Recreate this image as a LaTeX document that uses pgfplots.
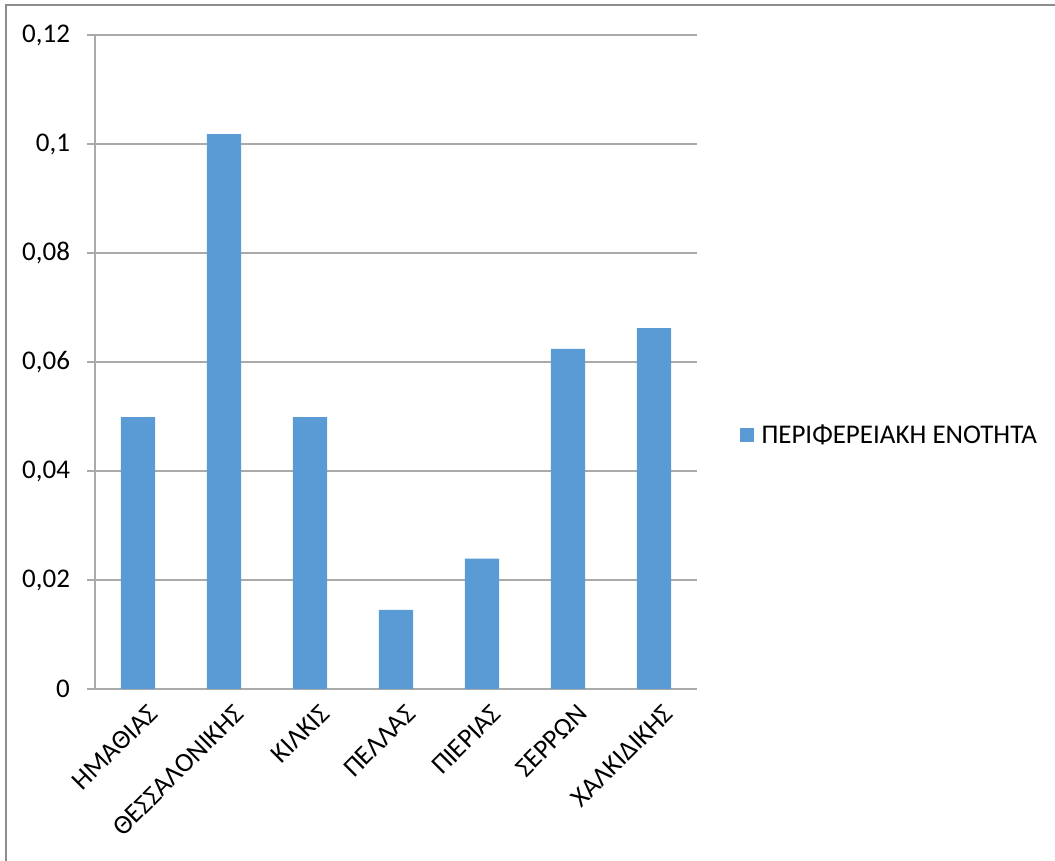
\documentclass[border=0pt]{standalone}
\usepackage{pgfplots}
\pgfplotsset{compat=1.18}
\usepackage{fontspec}
\setmainfont{Carlito}
\definecolor{barblue}{HTML}{5B9BD5}
\definecolor{gridgray}{RGB}{170,170,170}
\definecolor{bordergray}{RGB}{140,140,140}
\begin{document}
\begin{tikzpicture}
\useasboundingbox (-47.5pt,-86pt) rectangle (480pt,344.5pt);
\draw[bordergray, line width=0.8pt] (-44.5pt,-90pt) -- (-44.5pt,342pt) -- (485pt,342pt);
\begin{axis}[
  scale only axis,
  width=301pt, height=327pt,
  xmin=-0.5, xmax=6.5,
  ymin=0, ymax=0.12,
  ytick={0,0.02,0.04,0.06,0.08,0.1,0.12},
  yticklabels={0,{0,02},{0,04},{0,06},{0,08},{0,1},{0,12}},
  xtick={0,1,2,3,4,5,6},
  xticklabels={ΗΜΑΘΙΑΣ,ΘΕΣΣΑΛΟΝΙΚΗΣ,ΚΙΛΚΙΣ,ΠΕΛΛΑΣ,ΠΙΕΡΙΑΣ,ΣΕΡΡΩΝ,ΧΑΛΚΙΔΙΚΗΣ},
  major x tick style={draw=none},
  extra x ticks={-0.5,0.5,1.5,2.5,3.5,4.5,5.5,6.5},
  extra x tick labels={},
  extra x tick style={tick align=outside, major tick length=4pt, tick style={gridgray, line width=0.8pt}, grid=none},
  tick align=outside,
  major tick length=4pt,
  ymajorgrids,
  grid style={gridgray, line width=0.8pt},
  y tick style={gridgray, line width=0.8pt},
  axis line style={gridgray, line width=0.8pt},
  axis x line*=bottom,
  axis y line*=left,
  tick label style={font=\fontsize{13.5}{15}\selectfont, black},
  yticklabel style={xshift=-5pt},
  xticklabel style={rotate=45, anchor=north east, inner sep=1pt, xshift=2pt, yshift=-4pt},
  legend style={at={(1.07,0.388)}, anchor=west, draw=none, font=\fontsize{13.5}{15}\selectfont, inner sep=0pt},
  legend image code/.code={\fill[barblue] (0pt,-3.5pt) rectangle (7pt,3.5pt); \path (9pt,0pt);},
  clip=false,
]
\addplot[ybar, bar width=0.4, fill=barblue, draw=none] coordinates {
  (0,0.0499) (1,0.1018) (2,0.0499) (3,0.0145) (4,0.0239) (5,0.0624) (6,0.0662)
};
\addlegendentry{ΠΕΡΙΦΕΡΕΙΑΚΗ ΕΝΟΤΗΤΑ}
\end{axis}
\end{tikzpicture}
\end{document}
